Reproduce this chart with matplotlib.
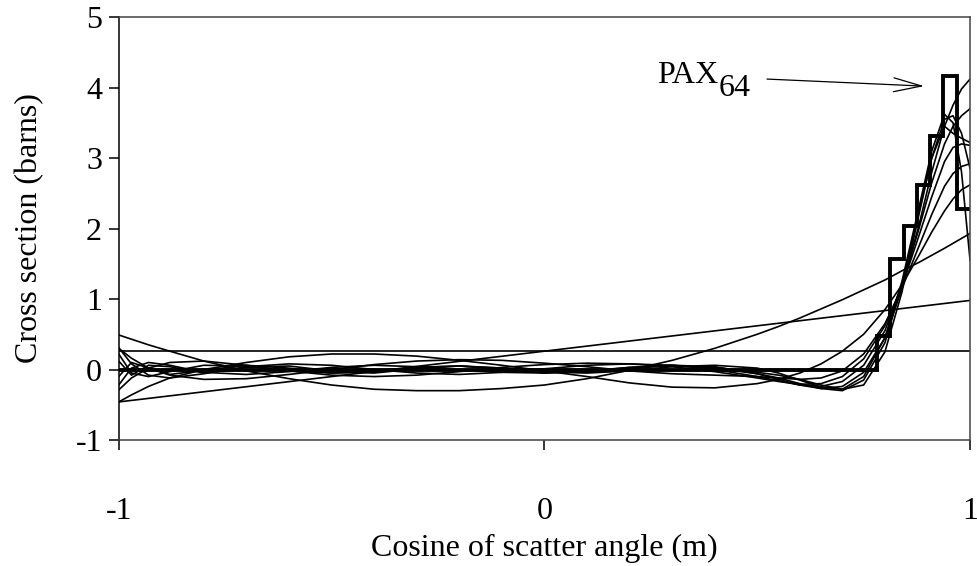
import matplotlib
matplotlib.use("Agg")
import matplotlib.pyplot as plt

# cosine grid shared by the smooth expansion curves
mu = [-1, -0.97, -0.93, -0.88, -0.8, -0.7, -0.6, -0.5, -0.4, -0.3, -0.2, -0.1, 0,
      0.1, 0.2, 0.3, 0.4, 0.5, 0.55, 0.6, 0.65, 0.7, 0.75, 0.8, 0.84, 0.88, 0.91,
      0.94, 0.96, 0.98, 1.0]

# P0 and P1 are straight lines, end points only
p0_mu = [-1, 1]
p0 = [0.26, 0.26]
p1_mu = [-1, 1]
p1 = [-0.46, 0.98]

p2 = [0.49, 0.43, 0.35, 0.26, 0.12, -0.02, -0.13, -0.22, -0.28, -0.30, -0.30, -0.27, -0.22,
      -0.13, -0.01, 0.13, 0.30, 0.50, 0.61, 0.73, 0.86, 0.99, 1.13, 1.27, 1.40, 1.52, 1.62,
      1.72, 1.79, 1.86, 1.93]
p3 = [-0.46, -0.36, -0.24, -0.12, 0.0, 0.10, 0.18, 0.22, 0.22, 0.19, 0.13, 0.06, -0.02,
      -0.10, -0.19, -0.25, -0.26, -0.20, -0.14, -0.05, 0.08, 0.26, 0.50, 0.85, 1.20, 1.62,
      1.95, 2.25, 2.42, 2.55, 2.62]
p4 = [0.30, 0.16, 0.02, -0.08, -0.14, -0.13, -0.07, 0.0, 0.07, 0.12, 0.14, 0.13, 0.09,
      0.04, -0.02, -0.06, -0.08, -0.10, -0.12, -0.14, -0.12, -0.02, 0.22, 0.65, 1.15, 1.75,
      2.20, 2.60, 2.78, 2.88, 2.92]
p5 = [-0.29, -0.12, 0.02, 0.10, 0.12, 0.06, -0.02, -0.08, -0.10, -0.08, -0.03, 0.03, 0.07,
      0.09, 0.08, 0.04, -0.03, -0.12, -0.17, -0.21, -0.20, -0.10, 0.15, 0.62, 1.18, 1.90,
      2.45, 2.95, 3.15, 3.20, 3.18]
p6 = [0.31, 0.08, -0.08, -0.12, -0.06, 0.04, 0.08, 0.06, 0.0, -0.05, -0.07, -0.04, 0.01,
      0.06, 0.08, 0.06, 0.0, -0.10, -0.16, -0.22, -0.24, -0.17, 0.06, 0.55, 1.20, 2.00,
      2.65, 3.20, 3.45, 3.60, 3.70]
p7 = [-0.22, 0.02, 0.10, 0.06, -0.04, -0.07, -0.03, 0.03, 0.06, 0.04, 0.0, -0.04, -0.05,
      -0.02, 0.03, 0.06, 0.04, -0.06, -0.14, -0.22, -0.27, -0.24, -0.04, 0.45, 1.15, 2.05,
      2.80, 3.45, 3.75, 3.98, 4.12]
p8 = [0.22, -0.05, -0.10, -0.03, 0.06, 0.05, -0.02, -0.05, -0.02, 0.03, 0.05, 0.02, -0.03,
      -0.05, -0.02, 0.04, 0.06, 0.02, -0.05, -0.15, -0.25, -0.28, -0.10, 0.45, 1.25, 2.30,
      3.10, 3.62, 3.50, 2.80, 1.55]
p9 = [-0.10, 0.10, 0.02, -0.07, -0.01, 0.06, 0.02, -0.05, -0.04, 0.03, 0.05, 0.0, -0.05,
      -0.03, 0.03, 0.06, 0.02, -0.06, -0.12, -0.20, -0.27, -0.30, -0.15, 0.38, 1.20, 2.25,
      3.00, 3.55, 3.60, 3.35, 2.85]
p10 = [0.12, -0.08, 0.06, 0.04, -0.05, 0.03, 0.05, -0.02, -0.05, 0.01, 0.05, 0.02, -0.04,
       -0.04, 0.02, 0.05, 0.03, -0.04, -0.08, -0.14, -0.22, -0.28, -0.22, 0.25, 1.10, 2.20,
       3.00, 3.45, 3.35, 3.28, 3.22]
curves = [p2, p3, p4, p5, p6, p7, p8, p9, p10]

# PAX64 histogram (bin edges and heights)
pax_edges = [-1, 0.78125, 0.8125, 0.84375, 0.875, 0.90625, 0.9375, 0.96875, 1.0]
pax_vals = [0.0, 0.47, 1.57, 2.03, 2.62, 3.31, 4.17, 2.28]

plt.rcParams['font.family'] = ['Liberation Serif', 'DejaVu Serif']
plt.rcParams['axes.unicode_minus'] = False

fig = plt.figure(figsize=(9.77, 5.66), dpi=100)
ax = fig.add_axes([0.1215, 0.2226, 0.8714, 0.7473])

ax.plot(p0_mu, p0, color='black', lw=1.2)
ax.plot(p1_mu, p1, color='black', lw=1.2)
for c in curves:
    ax.plot(mu, c, color='black', lw=1.2)

ax.stairs(pax_vals, pax_edges, baseline=None, color='black', lw=2.8)

# label with arrow
ax.text(0.408, 4.06, 'PAX', fontsize=23, ha='right', va='baseline')
ax.text(0.41, 3.88, '64', fontsize=23, ha='left', va='baseline')
ax.annotate('', xy=(0.892, 4.02), xytext=(0.523, 4.12),
            arrowprops=dict(arrowstyle='->,head_length=1.0,head_width=0.25',
                            mutation_scale=20, color='black', lw=0.9,
                            shrinkA=0, shrinkB=0))

ax.set_xlim(-1, 1)
ax.set_ylim(-1, 5)
ax.set_xticks([-1, 0, 1])
ax.set_yticks([-1, 0, 1, 2, 3, 4, 5])
ax.tick_params(axis='x', direction='out', length=7, width=1.1, pad=34, labelsize=23)
ax.tick_params(axis='y', direction='out', length=7, width=1.1, pad=5, labelsize=23)

for side in ['top', 'right', 'bottom']:
    ax.spines[side].set_color('#444444')
    ax.spines[side].set_linewidth(1.1)
ax.spines['left'].set_color('black')
ax.spines['left'].set_linewidth(1.1)

ax.set_xlabel('Cosine of scatter angle (m)', fontsize=23, va='top')
ax.set_ylabel('Cross section (barns)', fontsize=23)
ax.xaxis.set_label_coords(0.5, -0.222)
ax.yaxis.set_label_coords(-0.087, 0.5)

fig.savefig('out.png', dpi=100)
